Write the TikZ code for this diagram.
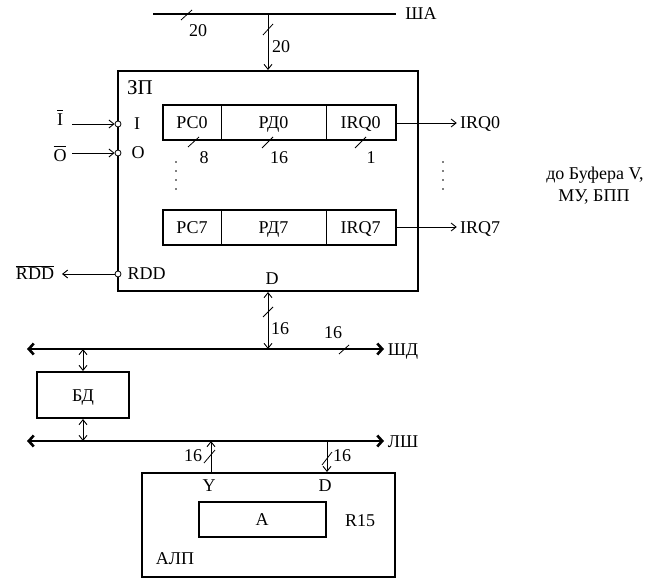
\documentclass[tikz,border=0pt]{standalone}
\usepackage{fontspec}
\setmainfont{Liberation Serif}
\usetikzlibrary{arrows.meta}
\newcommand\fs{\fontsize{18}{22}\selectfont}
\begin{document}
\begin{tikzpicture}[x=1pt,y=-1pt,
  lbl/.style={inner sep=0pt,font=\fs,text height=12pt,text depth=0pt},
  barlbl/.style={inner sep=0pt,font=\fs},
  box/.style={draw,line width=2pt,inner sep=0pt,font=\fs,text height=12pt,text depth=0pt},
  reg/.style={draw,line width=1pt,inner sep=0pt,minimum height=34pt,font=\fs,text height=12pt,text depth=0pt},
  sig/.style={line width=0.9pt,-{Straight Barb[length=5pt,width=8pt]}},
  bidir/.style={line width=0.9pt,{Straight Barb[length=5pt,width=8pt]}-{Straight Barb[length=5pt,width=8pt]}},
  bus/.style={line width=2.6pt,{Straight Barb[length=5pt,width=11pt]}-{Straight Barb[length=5pt,width=11pt]}},
  plainbus/.style={line width=2.6pt},
  tick/.style={line width=0.8pt},
  pin/.style={circle,draw,fill=white,line width=0.8pt,inner sep=0pt,minimum size=6pt},
]
\useasboundingbox (0,0) rectangle (652,580);

% ---- address bus
\coordinate (shaA) at (153,14);
\coordinate (shaB) at (396,14);
\coordinate (shaT) at (268,14);
\draw[plainbus] (shaA) -- (shaB);
\node[lbl] (shal) at (421,14) {ША};
\draw[tick] (181,20) -- (192,10);
\node[lbl] (n20a) at (198,31) {20};

% ---- ZP block
\node[box,minimum width=300pt,minimum height=220pt] (zp) at (268,181) {};
\node[inner sep=0pt,font=\fontsize{21}{24}\selectfont,text height=14pt,text depth=0pt] (zpl) at (140,88) {ЗП};
\draw[sig] (shaT) -- (zp.north);
\draw[tick] (263,35) -- (273,24);
\node[lbl] (n20b) at (281,47) {20};

% registers row 0
\node[reg,minimum width=58pt] (pc0) at (192,123) {РС0};
\node[reg,minimum width=105pt] (rd0) at (273.5,123) {РД0};
\node[reg,minimum width=69pt] (irq0) at (360.5,123) {IRQ0};
\draw[line width=2pt] (pc0.north west) rectangle (irq0.south east);
% registers row 7
\node[reg,minimum width=58pt] (pc7) at (192,227) {РС7};
\node[reg,minimum width=105pt] (rd7) at (273.5,227) {РД7};
\node[reg,minimum width=69pt] (irq7) at (360.5,227) {IRQ7};
\draw[line width=2pt] (pc7.north west) rectangle (irq7.south east);

% widths
\draw[tick] (188,147) -- (199,137);
\node[lbl] (n8) at (204,158) {8};
\draw[tick] (262,148) -- (273,137);
\node[lbl] (n16r) at (279,158) {16};
\draw[tick] (355,148) -- (366,137);
\node[lbl] (n1) at (371,158) {1};

% dots
\foreach \yy in {162,171,180,189} {
  \fill (176,\yy) circle (0.8pt);
  \fill (443,\yy) circle (0.8pt);
}

% inputs
\node[pin] (pinI) at (118,124) {};
\node[pin] (pinO) at (118,153) {};
\node[pin] (pinR) at (118,274) {};
\node[barlbl] (ibar) at (60,118) {$\overline{\mbox{I\rule{0pt}{14pt}}}$};
\node[barlbl] (obar) at (60,154) {$\overline{\mbox{O\rule{0pt}{14pt}}}$};
\node[barlbl] (rddbar) at (35,273) {$\overline{\mbox{RDD}}$};
\coordinate (iS) at (72,124);
\coordinate (oS) at (72,153);
\coordinate (rE) at (62,274);
\draw[sig] (iS) -- (pinI.west);
\draw[sig] (oS) -- (pinO.west);
\draw[sig] (pinR.west) -- (rE);
\node[lbl] (lI) at (137,124) {I};
\node[lbl] (lO) at (138,152) {O};
\node[lbl] (lRDD) at (146.5,273) {RDD};
\node[lbl] (lD) at (272,278) {D};

% IRQ outputs
\node[lbl] (irq0o) at (480,123) {IRQ0};
\node[lbl] (irq7o) at (480,227) {IRQ7};
\draw[sig,shorten >=3pt] (irq0.east) -- (irq0o.west);
\draw[sig,shorten >=3pt] (irq7.east) -- (irq7o.west);
\node[lbl] (dest1) at (595,173) {до Буфера V,};
\node[lbl] (dest2) at (594,195) {МУ, БПП};

% ---- data bus
\coordinate (shdL) at (27,349);
\coordinate (shdR) at (384,349);
\coordinate (shdT) at (268,349);
\coordinate (shdB) at (83,349);
\draw[bus] (shdL) -- (shdR);
\node[lbl] (shdl) at (403,349) {ШД};
\draw[bidir] (zp.south) -- (shdT);
\draw[tick] (263,317) -- (273,307);
\node[lbl] (n16a) at (280,328) {16};
\draw[tick] (339,354) -- (349,345);
\node[lbl] (n16b) at (333,332) {16};

% BD
\node[box,minimum width=92pt,minimum height=46pt] (bd) at (83,395) {БД};
\coordinate (lshB) at (83,441);
\draw[bidir] (shdB) -- (bd.north);
\draw[bidir] (bd.south) -- (lshB);

% ---- local bus
\coordinate (lshL) at (27,441);
\coordinate (lshR) at (384,441);
\draw[bus] (lshL) -- (lshR);
\node[lbl] (lshl) at (403,441) {ЛШ};

% ALU
\node[box,minimum width=253pt,minimum height=104pt] (alu) at (268.5,525) {};
\node[lbl] (aluY) at (209,485) {Y};
\node[lbl] (aluD) at (325,485) {D};
\coordinate (lshY) at (211,441);
\coordinate (lshD) at (327,441);
\draw[sig] (alu.north -| lshY) -- (lshY);
\draw[sig] (lshD) -- (alu.north -| lshD);
\draw[tick] (204,463) -- (215,450);
\node[lbl] (n16c) at (193,455) {16};
\draw[tick] (322,465) -- (332,452);
\node[lbl] (n16d) at (342,455) {16};
\node[box,minimum width=127pt,minimum height=35pt] (areg) at (262,519.5) {А};
\node[lbl] (r15) at (360,520) {R15};
\node[lbl] (alul) at (175,558) {АЛП};
\end{tikzpicture}
\end{document}
